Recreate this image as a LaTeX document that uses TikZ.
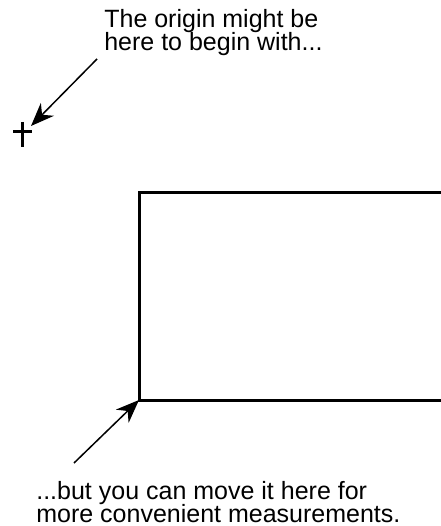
\documentclass[tikz,border=0pt]{standalone}
\usepackage{fontspec}
\setmainfont{Liberation Sans}
\usetikzlibrary{arrows.meta, positioning}

\begin{document}
\begin{tikzpicture}[
    x=0.6pt, y=-0.6pt,
    note/.style={align=left, anchor=north west, inner sep=0pt,
      font=\fontsize{15}{14.1}\selectfont},
    pointer/.style={draw, line width=0.9pt, -{Stealth[length=14pt, width=11pt]}},
    frame/.style={draw, line width=1.8pt},
  ]
  \useasboundingbox (0,0) rectangle (441,526);

  \coordinate (origin) at (22,132);
  \coordinate (corner) at (139,400);

  \node[note] (top) at (104,9) {The origin might be\\here to begin with...};
  \node[note] (bottom) at (36,481) {...but you can move it here for\\more convenient measurements.};

  \coordinate (topstart) at (97,59);
  \coordinate (topend) at (31,126);
  \coordinate (bottomstart) at (74,463);

  % the old origin mark
  \draw[line width=1.8pt] (origin) ++(-9,0) -- ++(19,0);
  \draw[line width=1.8pt] (origin) ++(0,-10) -- ++(0,25);

  % the box, open to the right
  \draw[frame] (441,193) -- (139,193) -- (corner) -- (441,400);

  \draw[pointer] (topstart) -- (topend);
  \draw[pointer] (bottomstart) -- (corner);
\end{tikzpicture}
\end{document}
